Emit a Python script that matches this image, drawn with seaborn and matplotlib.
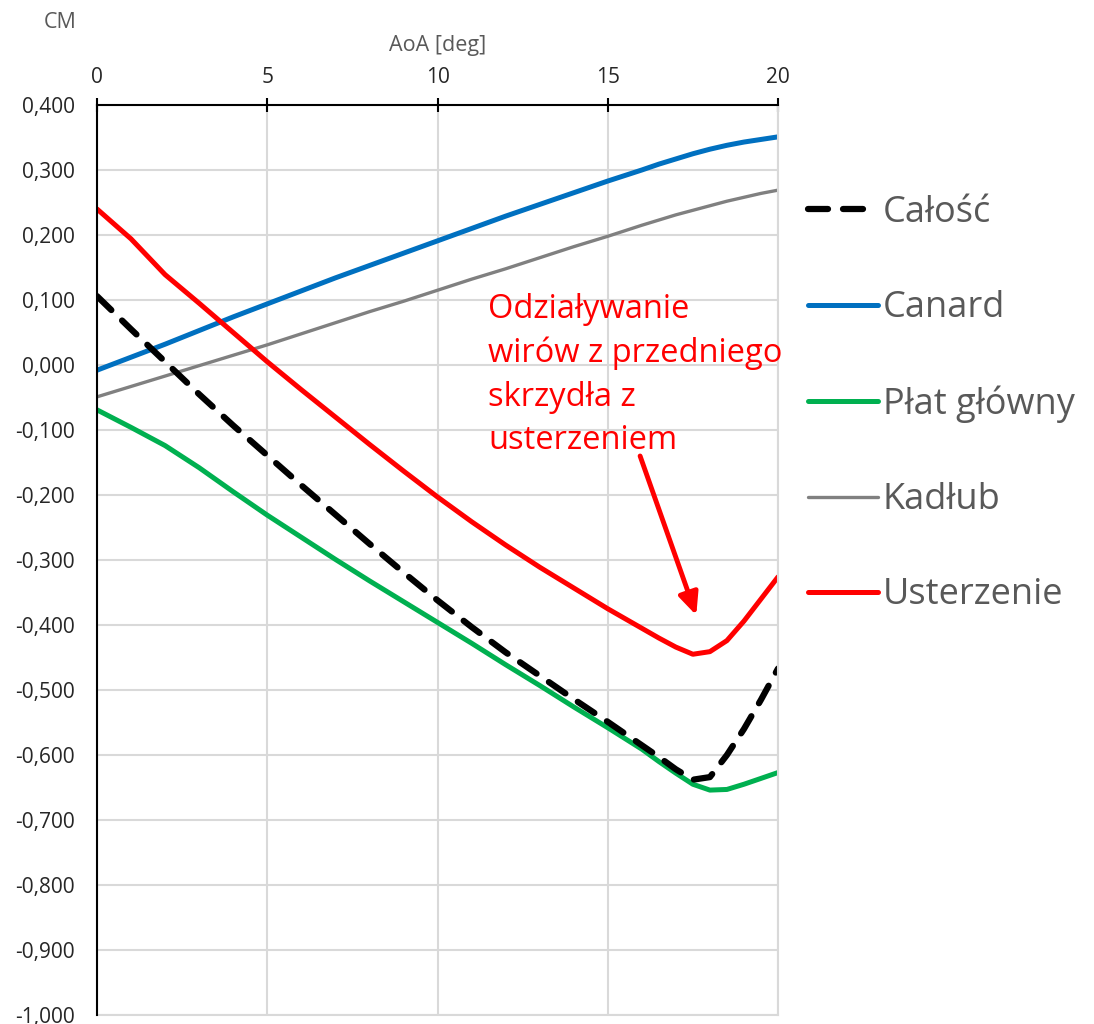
import matplotlib
matplotlib.use("Agg")
import matplotlib.pyplot as plt
import seaborn as sns
import pandas as pd
from matplotlib.ticker import FuncFormatter, MultipleLocator

# Angle of attack [deg]
aoa = [0, 1, 2, 3, 4, 5, 6, 7, 8, 9, 10, 11, 12, 13, 14, 15, 16,
       16.5, 17, 17.5, 18, 18.5, 19, 19.5, 20]

# Pitching moment coefficient contributions
calosc = [0.106, 0.055, 0.005, -0.045, -0.093, -0.139, -0.185, -0.230, -0.275, -0.319,
          -0.362, -0.403, -0.442, -0.478, -0.514, -0.549, -0.585,
          -0.603, -0.622, -0.638, -0.634, -0.600, -0.560, -0.515, -0.467]
canard = [-0.008, 0.012, 0.032, 0.053, 0.074, 0.094, 0.114, 0.134, 0.153, 0.172,
          0.191, 0.210, 0.229, 0.247, 0.265, 0.283, 0.300,
          0.309, 0.317, 0.325, 0.332, 0.338, 0.343, 0.347, 0.351]
plat_glowny = [-0.069, -0.096, -0.124, -0.158, -0.195, -0.231, -0.265, -0.299, -0.332, -0.364,
               -0.396, -0.428, -0.461, -0.493, -0.526, -0.558, -0.591,
               -0.610, -0.628, -0.645, -0.654, -0.653, -0.645, -0.636, -0.627]
kadlub = [-0.049, -0.033, -0.017, -0.001, 0.015, 0.031, 0.048, 0.065, 0.082, 0.098,
          0.115, 0.132, 0.148, 0.165, 0.182, 0.198, 0.215,
          0.223, 0.231, 0.238, 0.245, 0.252, 0.258, 0.264, 0.269]
usterzenie = [0.240, 0.194, 0.139, 0.095, 0.050, 0.005, -0.038, -0.080, -0.122, -0.163,
              -0.203, -0.241, -0.277, -0.311, -0.343, -0.375, -0.405,
              -0.420, -0.434, -0.445, -0.441, -0.424, -0.394, -0.360, -0.326]

series_names = ["Całość", "Canard", "Płat główny", "Kadłub", "Usterzenie"]
series_values = [calosc, canard, plat_glowny, kadlub, usterzenie]
series_colors = ["#000000", "#0070C0", "#00B050", "#808080", "#FF0000"]
series_widths = [4.5, 3.6, 3.6, 2.4, 3.6]

annotation = "Odziaływanie\nwirów z przedniego\nskrzydła z\nusterzeniem"

sns.set_theme(style="white")
plt.rcParams["font.family"] = ["Open Sans", "DejaVu Sans"]

fig = plt.figure(figsize=(10.94, 10.24), dpi=100)
ax = fig.add_axes([97 / 1094, 1 - 1015 / 1024, (778 - 97) / 1094, (1015 - 105) / 1024])

frames = []
for name, vals in zip(series_names, series_values):
    frames.append(pd.DataFrame({"AoA": aoa, "CM": vals, "series": name}))
df = pd.concat(frames, ignore_index=True)

# Draw the thinner/background series first, the total last on top
draw_order = [3, 1, 2, 4, 0]
lines = {}
for i in draw_order:
    sub = df[df["series"] == series_names[i]]
    sns.lineplot(data=sub, x="AoA", y="CM", ax=ax, color=series_colors[i],
                 lw=series_widths[i], sort=False, estimator=None)
    ln = ax.lines[-1]
    ln.set_solid_capstyle("round")
    ln.set_solid_joinstyle("round")
    if i == 0:
        ln.set_linestyle((0, (3.2, 2.4)))
        ln.set_dash_capstyle("round")
    lines[i] = ln

ax.set_xlim(0, 20)
ax.set_ylim(-1.0, 0.4)
ax.xaxis.set_major_locator(MultipleLocator(5))
ax.yaxis.set_major_locator(MultipleLocator(0.1))
ax.yaxis.set_major_formatter(FuncFormatter(lambda v, p: f"{v:.3f}".replace(".", ",").replace("-0,000", "0,000")))
ax.xaxis.tick_top()
ax.xaxis.set_label_position("top")

ax.grid(True, color="#d9d9d9", lw=1.5)
ax.set_axisbelow(True)
for side in ["right", "bottom"]:
    ax.spines[side].set_color("#d9d9d9")
    ax.spines[side].set_linewidth(1.5)
for side in ["left", "top"]:
    ax.spines[side].set_color("#000000")
    ax.spines[side].set_linewidth(1.5)
    ax.spines[side].set_zorder(5)

ax.tick_params(axis="x", top=True, bottom=False, direction="inout", length=10, width=1.5,
               color="black", labelsize=15, labelcolor="#262626", pad=7)
ax.tick_params(axis="y", left=False, labelsize=15, labelcolor="#262626", pad=10)

ax.set_xlabel("AoA [deg]", fontsize=15.5, color="#595959", labelpad=12)
ax.set_ylabel("")
fig.text(60 / 1094, 1 - 22 / 1024, "CM", fontsize=15.5, color="#595959", ha="center", va="center")

# Callout about canard vortex interaction with the tail
ax.text(11.48, 0.111, annotation, fontsize=23.5, color="#FF0000", ha="left", va="top",
        linespacing=1.42)
ax.annotate("", xy=(17.6, -0.385), xytext=(15.95, -0.14),
            arrowprops=dict(arrowstyle="-|>,head_length=1.1,head_width=0.5", color="#FF0000",
                            lw=3.5, shrinkA=0, shrinkB=0))

handles = [lines[i] for i in range(5)]
leg = fig.legend(handles, series_names, loc="upper left", bbox_to_anchor=(808 / 1094, 1 - 195 / 1024),
                 frameon=False, fontsize=26, labelcolor="#595959", handlelength=1.95,
                 handletextpad=0.12, labelspacing=1.64, borderaxespad=0, borderpad=0)

fig.savefig("out.png", dpi=100)
